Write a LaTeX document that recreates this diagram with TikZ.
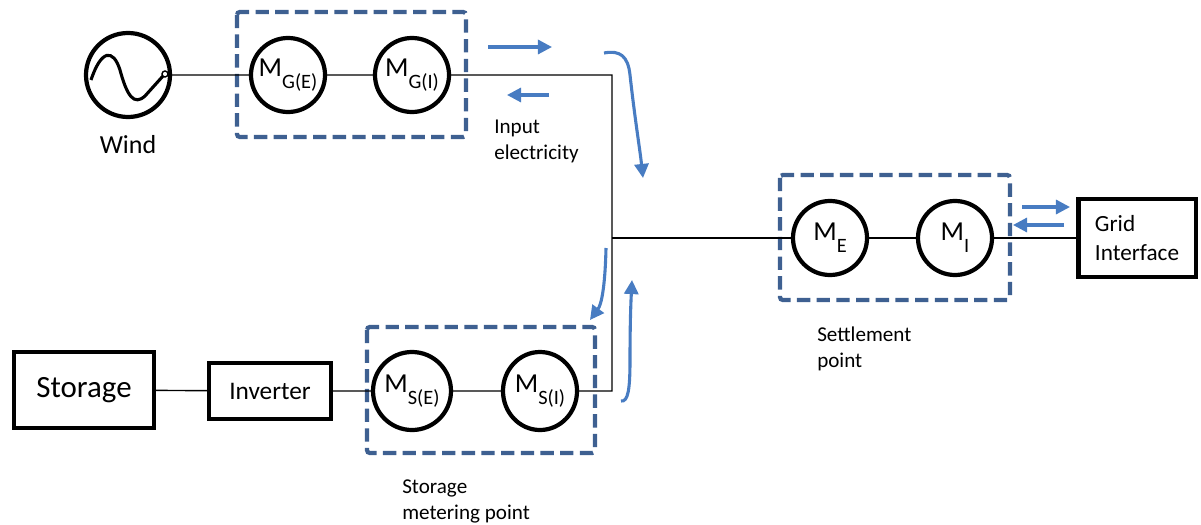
\documentclass[tikz,border=0pt]{standalone}
\usepackage{fontspec}
\setmainfont{Carlito}
\usetikzlibrary{arrows.meta,shapes.geometric}

\definecolor{zoneblue}{RGB}{62,96,145}
\definecolor{flowblue}{RGB}{72,124,194}

\newcommand{\meterlbl}[1]{{\fontsize{19.5}{21}\selectfont M}\raisebox{-8.5pt}{\fontsize{14.5}{16}\selectfont #1}}

\tikzset{
  meter/.style={circle, draw, line width=3pt, minimum size=1.85cm, inner sep=0pt},
  smeter/.style={ellipse, draw, line width=3pt, minimum width=1.85cm, minimum height=1.95cm, inner sep=0pt},
  block/.style={rectangle, draw, line width=3pt, inner sep=0pt},
  zone/.style={draw=zoneblue, line width=3pt, dash pattern=on 9.5pt off 4.5pt, rounded corners=2pt},
  flow/.style={draw=flowblue, line width=2.2pt, -{Triangle[length=10pt,width=10pt]}},
  wire/.style={line width=1pt},
  lbl/.style={align=left, font=\fontsize{15}{18.5}\selectfont, inner sep=0pt}
}

\begin{document}
\begin{tikzpicture}[x=0.025cm, y=-0.025cm]
  \useasboundingbox (0,0) rectangle (1201,525);

  % wind generator
  \node[circle, draw, line width=3pt, minimum size=2.1cm] (wind) at (128,75) {};
  \draw[line width=2.2pt] (91,80) .. controls (101,50) and (113,48) .. (120,70)
        .. controls (127,96) and (134,106) .. (145,96) -- (163,76);
  \draw[line width=1pt, fill=white] (165,74) circle (3);
  \node[font=\fontsize{18.5}{20}\selectfont] (windlbl) at (128,145) {Wind};

  % generator metering point
  \draw[zone] (237,12) rectangle (466,137);
  \node[meter] (mge) at (288,75) {\meterlbl{G(E)}};
  \node[meter] (mgi) at (412,75) {\meterlbl{G(I)}};

  % storage branch
  \node[block, minimum width=3.5cm, minimum height=1.9cm] (storage) at (84,390)
        {\fontsize{22}{24}\selectfont Storage};
  \node[block, minimum width=3.05cm, minimum height=1.4cm] (inverter) at (270,391)
        {\fontsize{18}{20}\selectfont Inverter};
  \draw[zone] (367,327) rectangle (595,453);
  \node[smeter] (mse) at (412,391) {\meterlbl{S(E)}};
  \node[smeter] (msi) at (540,391) {\meterlbl{S(I)}};

  % settlement point and grid
  \draw[zone] (780,175) rectangle (1010,300);
  \node[meter] (me) at (830,238) {\meterlbl{E}};
  \node[meter] (mi) at (955,238) {\meterlbl{I}};
  \node[block, minimum width=2.93cm, minimum height=1.95cm, align=left,
        font=\fontsize{16.5}{20}\selectfont] (grid) at (1137,238) {Grid\\Interface};

  % wiring
  \coordinate (ctop) at (612,75);
  \coordinate (cjn) at (612,238);
  \coordinate (cbot) at (612,391);
  \draw[wire] (wind) -- (mge) -- (mgi) -- (ctop) -- (cbot) -- (msi) -- (mse) -- (inverter) -- (storage);
  \draw[wire] (cjn) -- (me) -- (mi) -- (grid);

  % energy flows
  \draw[flow] (488,47) -- (552,47);
  \draw[flow] (549,95) -- (507,95);
  \draw[flow] (604,53) .. controls (620,50) and (628,56) .. (630,75)
        .. controls (635,120) and (640,150) .. (643,178);
  \draw[flow] (606,248) .. controls (605,290) and (601,305) .. (590,320);
  \draw[flow] (621,401) .. controls (628,402) and (630,390) .. (630,360)
        .. controls (630,320) and (631,300) .. (632,280);
  \draw[flow] (1022,207) -- (1070,207);
  \draw[flow] (1064,225) -- (1013,225);

  % labels
  \node[lbl, anchor=north west] (inlbl) at (494,120) {Input\\electricity};
  \node[lbl, anchor=north west] (setlbl) at (817,327) {Settlement\\point};
  \node[lbl, anchor=north west] (stlbl) at (402,480) {Storage\\metering point};
\end{tikzpicture}
\end{document}
